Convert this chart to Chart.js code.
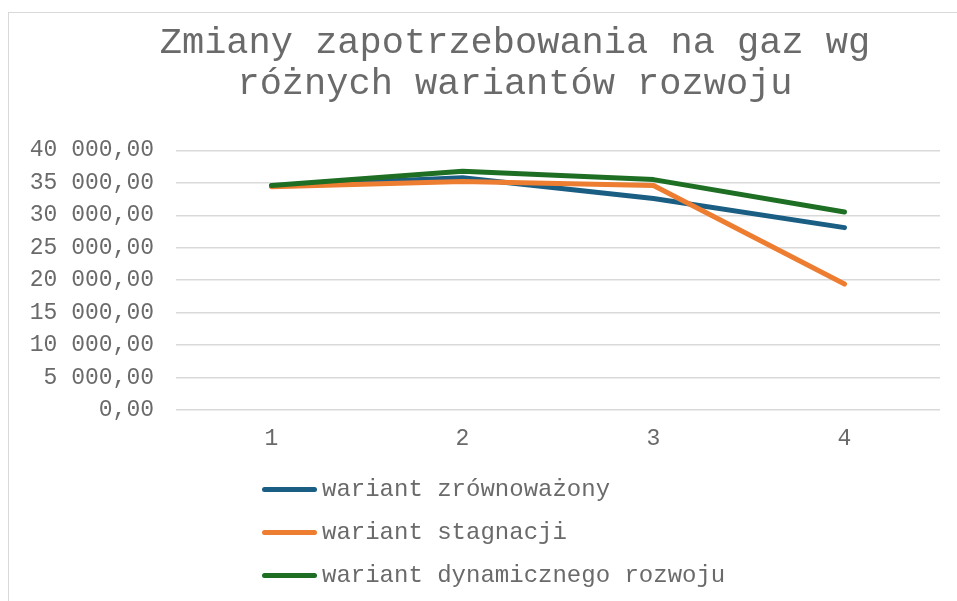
<!DOCTYPE html>
<html>
<head>
<meta charset="utf-8">
<script src="https://cdn.jsdelivr.net/npm/chart.js@4"></script>
<style>
  html, body { margin: 0; padding: 0; background: #fff; overflow: hidden; width: 957px; height: 601px; }
  #frame { position: absolute; left: 8px; top: 12px; width: 1100px; height: 700px; border: 1px solid #d9d9d9; box-sizing: border-box; }
  #wrap { position: absolute; left: 8px; top: 12px; width: 1014px; height: 460px; }
  #legend { position: absolute; left: 262px; top: 468px; font-family: "Liberation Mono", "Courier New", monospace; font-size: 24px; color: #6a6a6a; }
  #legend .item { height: 43px; display: flex; align-items: center; }
  #legend .swatch { width: 55px; height: 5px; border-radius: 3px; margin-right: 5px; }
</style>
</head>
<body>
<div id="frame"></div>
<div id="wrap"><canvas id="gasChart"></canvas></div>
<div id="legend"></div>
<script>
const categories = ["1", "2", "3", "4"];
const zrownowazony = [34500, 35800, 32600, 28100];
const stagnacji = [34400, 35200, 34600, 19400];
const dynamiczny = [34600, 36800, 35500, 30500];

const monoFont = "'Liberation Mono', 'Courier New', monospace";

function plNumber(v) {
    const s = Math.round(v).toString().replace(/\B(?=(\d{3})+(?!\d))/g, " ");
    return s + ",00";
}

// Excel centres the title on the whole chart box, not on the padded area
const titleFullWidth = {
    id: "titleFullWidth",
    afterLayout(chart) {
        if (chart.titleBlock) {
            chart.titleBlock.left = 0;
            chart.titleBlock.right = chart.width;
        }
    }
};

const gasChart = new Chart(
    document.getElementById("gasChart"),
    {
        type: "line",
        data: {
            labels: categories,
            datasets: [
                {
                    label: "wariant zrównoważony",
                    data: zrownowazony,
                    borderColor: "#1B5E83",
                    order: 2
                },
                {
                    label: "wariant stagnacji",
                    data: stagnacji,
                    borderColor: "#ED7D31",
                    order: 1
                },
                {
                    label: "wariant dynamicznego rozwoju",
                    data: dynamiczny,
                    borderColor: "#1E6E24",
                    order: 0
                }
            ]
        },
        options: {
            responsive: true,
            maintainAspectRatio: false,
            animation: false,
            datasets: {
                line: {
                    borderWidth: 5,
                    pointRadius: 0,
                    borderCapStyle: "round",
                    borderJoinStyle: "round",
                    tension: 0
                }
            },
            layout: {
                padding: { left: 0, right: 82, top: 0, bottom: 0 }
            },
            plugins: {
                legend: { display: false },
                tooltip: { enabled: false },
                title: {
                    display: true,
                    text: ["Zmiany zapotrzebowania na gaz wg", "różnych wariantów rozwoju"],
                    color: "#6a6a6a",
                    font: { family: monoFont, size: 37, weight: "normal", lineHeight: 1.1 },
                    padding: { top: 11, bottom: 46 }
                }
            },
            scales: {
                y: {
                    min: 0,
                    max: 40000,
                    afterFit: (scale) => { scale.width = 168; },
                    ticks: {
                        stepSize: 5000,
                        padding: 22,
                        color: "#6a6a6a",
                        font: { family: monoFont, size: 23 },
                        callback: (v) => plNumber(v)
                    },
                    grid: { color: "#d9d9d9", lineWidth: 1.5, drawTicks: false },
                    border: { display: false }
                },
                x: {
                    offset: true,
                    afterFit: (scale) => { scale.height = 62; },
                    ticks: {
                        padding: 7,
                        color: "#6a6a6a",
                        font: { family: monoFont, size: 23 }
                    },
                    grid: { display: false, offset: true },
                    border: { display: false }
                }
            }
        },
        plugins: [titleFullWidth]
    }
);

const legendBox = document.getElementById("legend");
gasChart.data.datasets.forEach((ds) => {
    const item = document.createElement("div");
    item.className = "item";
    const sw = document.createElement("span");
    sw.className = "swatch";
    sw.style.background = ds.borderColor;
    const txt = document.createElement("span");
    txt.textContent = ds.label;
    item.appendChild(sw);
    item.appendChild(txt);
    legendBox.appendChild(item);
});
</script>
</body>
</html>
